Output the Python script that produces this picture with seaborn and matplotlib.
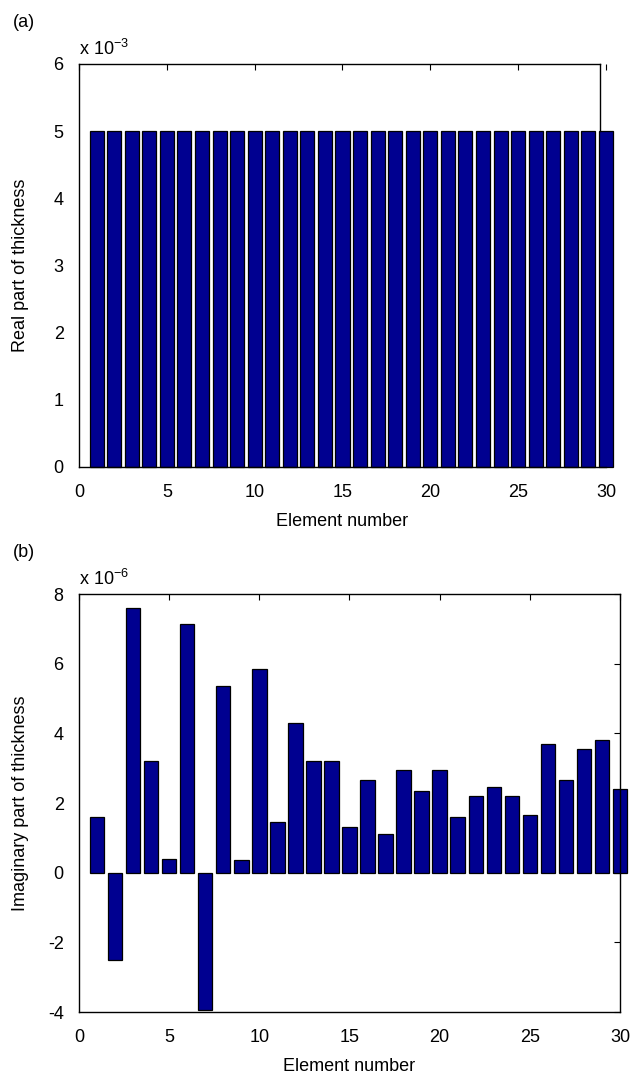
"""Real and imaginary parts of element thickness, two stacked bar panels."""
import matplotlib
matplotlib.use("Agg")
import matplotlib.pyplot as plt
import pandas as pd
import seaborn as sns

sns.set_theme(style="white")
plt.rcParams["font.family"] = ["Liberation Sans", "DejaVu Sans"]
plt.rcParams["mathtext.fontset"] = "custom"
plt.rcParams["mathtext.rm"] = "Liberation Sans"
for key in ("text.color", "axes.labelcolor", "xtick.color", "ytick.color"):
    plt.rcParams[key] = "black"

elements = list(range(1, 31))
real_part = [5e-3] * 30
imag_part = [1.6, -2.5, 7.6, 3.2, 0.4, 7.15, -3.95, 5.35, 0.35, 5.85,
             1.45, 4.3, 3.2, 3.2, 1.3, 2.65, 1.1, 2.95, 2.35, 2.95,
             1.6, 2.2, 2.45, 2.2, 1.65, 3.7, 2.65, 3.55, 3.8, 2.4]
imag_part = [v * 1e-6 for v in imag_part]

BAR = "#000090"
FS = 13

fig = plt.figure(figsize=(6.3, 10.81), dpi=100)
ax_a = fig.add_axes([0.1254, 0.568, 0.8365, 0.3728])
ax_b = fig.add_axes([0.1254, 0.0638, 0.8587, 0.3867])


def draw(ax, values, scale, ylim, yticks, ylabel, exp, label_x):
    df = pd.DataFrame({"element": elements, "value": [v / scale for v in values]})
    sns.barplot(data=df, x="element", y="value", native_scale=True, width=0.8,
                color=BAR, saturation=1, edgecolor="black", linewidth=0.9, ax=ax)
    for p in ax.patches:
        p.set_clip_on(False)
    ax.set_xlim(0, 30)
    ax.set_ylim(*ylim)
    ax.set_xticks([0, 5, 10, 15, 20, 25, 30])
    ax.set_yticks(yticks)
    ax.set_yticklabels([str(t) for t in yticks])
    ax.tick_params(direction="in", top=True, right=True, length=4, width=0.8,
                   labelsize=FS, color="black")
    ax.tick_params(axis="x", pad=12)
    ax.tick_params(axis="y", pad=11)
    for s in ax.spines.values():
        s.set_color("black")
        s.set_linewidth(1)
    ax.set_xlabel("Element number", fontsize=FS, labelpad=9)
    ax.set_ylabel(ylabel, fontsize=FS)
    ax.yaxis.set_label_coords(label_x, 0.5)
    ax.text(0.0, 1.012, "x 10$^{\\mathrm{%s}}$" % exp, transform=ax.transAxes,
            fontsize=FS, ha="left", va="bottom")


draw(ax_a, real_part, 1e-3, (0, 6), [0, 1, 2, 3, 4, 5, 6],
     "Real part of thickness", "-3", -0.095)
draw(ax_b, imag_part, 1e-6, (-4, 8), [-4, -2, 0, 2, 4, 6, 8],
     "Imaginary part of thickness", "-6", -0.092)

# the upper frame closes slightly inside the last bar, hidden below the bar tops
ax_a.spines["right"].set_position(("data", 29.66))
ax_a.spines["right"].set_bounds(5, 6)
ax_a.spines["top"].set_bounds(0, 29.66)
ax_a.tick_params(axis="y", right=False)

fig.text(13 / 630, 1 - 27 / 1081, "(a)", fontsize=FS, ha="left", va="baseline")
fig.text(13 / 630, 1 - 557 / 1081, "(b)", fontsize=FS, ha="left", va="baseline")

fig.savefig("out.png", dpi=100)
